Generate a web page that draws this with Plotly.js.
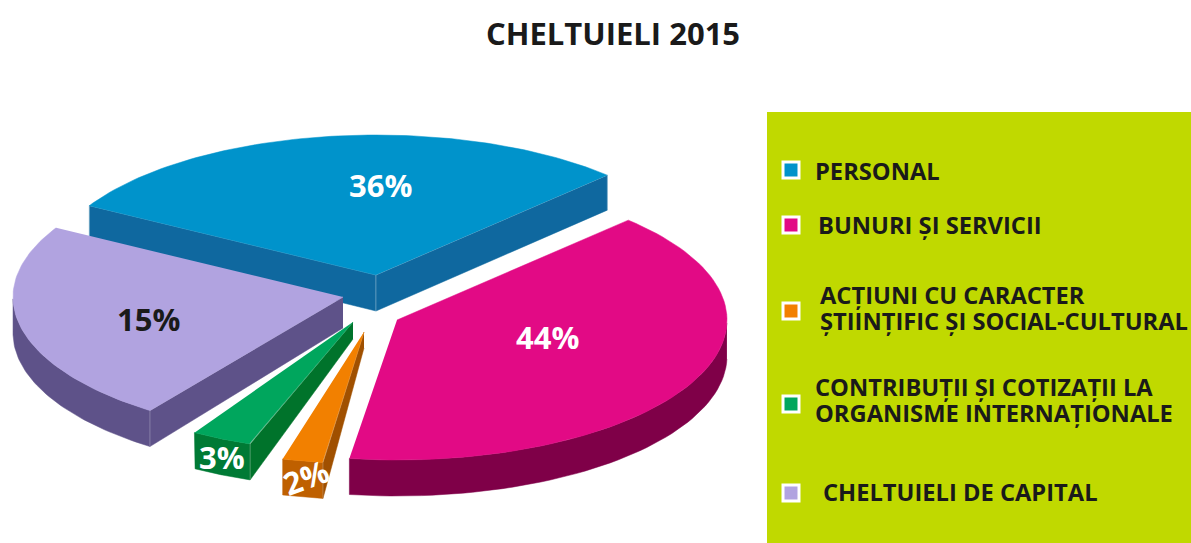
<!DOCTYPE html>
<html>
<head>
<meta charset="utf-8">
<script src="https://cdn.plot.ly/plotly-3.0.1.min.js"></script>
<style>html,body{margin:0;padding:0;background:#fff}#chart{width:1191px;height:543px}</style>
</head>
<body>
<div id="chart"></div>
<script>
// ---- data ----
var chartTitle = "CHELTUIELI 2015";
var categories = ["PERSONAL", "BUNURI ȘI SERVICII", "ACȚIUNI CU CARACTER ȘTIINȚIFIC ȘI SOCIAL-CULTURAL",
                  "CONTRIBUȚII ȘI COTIZAȚII LA ORGANISME INTERNAȚIONALE", "CHELTUIELI DE CAPITAL"];
var percentLabels = [36, 44, 2, 3, 15];
// swept angle of each slice as actually drawn in the (perspective) picture, degrees
var drawnSweep = [104.8, 143.8, 7.6, 11.6, 83.8];

// ---- layout and style, separate from the data ----
var startDeg  = [-60.3, 44.5, 187.6, 199.7, 215.8];
var centreX   = [376, 397, 364, 353, 343];
var centreY   = [275, 320, 332, 322, 297];
var radiusK   = [1, 1, 0.94, 0.925, 1];
var rimDepth  = [35, 36, 36, 36, 36];
var apexDepth = [36, 36, 16, 17, 31];
var topColor  = ["#0093CB", "#E20A85", "#F28000", "#00A65D", "#B1A3E0"];
var wallColor = ["#0F689F", "#7F0048", "#A05000", "#00732B", "#5E5289"];
var rimColor  = ["#0F689F", "#7F0048", "#BF6000", "#007A35", "#5E5289"];
var drawOrder = [0, 4, 1, 3, 2];
var RX = 330, RY = 140;

var labelX = [380, 547, 306, 222, 148];
var labelY = [185, 337, 477, 457, 319];
var labelColor = ["#fff", "#fff", "#fff", "#fff", "#1a1a1a"];
var labelAngle = [0, 0, -20, 0, 0];

var legendMarkY = [170, 225, 311, 404, 493];
var legendLines = [["PERSONAL"], ["BUNURI ȘI SERVICII"], ["ACȚIUNI CU CARACTER", "ȘTIINȚIFIC ȘI SOCIAL-CULTURAL"],
                   ["CONTRIBUȚII ȘI COTIZAȚII LA", "ORGANISME INTERNAȚIONALE"], ["CHELTUIELI DE CAPITAL"]];
var legendTextX = [813, 816, 818, 813, 821];
var legendTextY = [[171], [225], [295, 321], [387, 413], [492]];

var FONT = '"Open Sans", "Noto Sans", sans-serif';
var traces = [], annotations = [];

function pt(i, deg) {
  var t = deg * Math.PI / 180;
  return [centreX[i] + radiusK[i] * RX * Math.sin(t), centreY[i] - radiusK[i] * RY * Math.cos(t)];
}
function poly(xy, color) {
  traces.push({x: xy.map(function(p){return p[0];}), y: xy.map(function(p){return p[1];}),
    type: "scatter", mode: "lines", fill: "toself", fillcolor: color,
    line: {width: 0.5, color: color}, hoverinfo: "skip", showlegend: false});
}
function edge(a, b) {
  traces.push({x: [a[0], b[0]], y: [a[1], b[1]], type: "scatter", mode: "lines",
    line: {width: 0.7, color: "rgba(255,255,255,0.35)"}, hoverinfo: "skip", showlegend: false});
}

drawOrder.forEach(function(i) {
  var a0 = startDeg[i], sweep = drawnSweep[i], a1 = a0 + sweep;
  var apex = [centreX[i], centreY[i]];
  var arc = [], n = 80, k;
  for (k = 0; k <= n; k++) arc.push(pt(i, a0 + sweep * k / n));
  var mid = pt(i, a0 + sweep / 2);

  // outer rim: only the near half of the ellipse faces the viewer
  var rim = arc.filter(function(p, k) {
    var d = a0 + sweep * k / n; return d >= 90 && d <= 270;
  });
  if (rim.length > 1) {
    var low = rim.map(function(p){return [p[0], p[1] + rimDepth[i]];}).reverse();
    poly(rim.concat(low), rimColor[i]);
  }
  // radial cut faces: visible when the slice lies above the edge on screen
  [arc[0], arc[n]].forEach(function(P) {
    var ex = P[0] - apex[0], ey = P[1] - apex[1];
    var sideMid = ex * (mid[1] - apex[1]) - ey * (mid[0] - apex[0]);
    var sideDown = ex * 1;
    if (sideMid * sideDown < 0) {
      poly([apex, P, [P[0], P[1] + rimDepth[i]], [apex[0], apex[1] + apexDepth[i]]], wallColor[i]);
      edge(apex, P);
      edge(P, [P[0], P[1] + rimDepth[i]]);
      if (i === 0) edge(apex, [apex[0], apex[1] + apexDepth[i]]);
    }
  });
  poly([apex].concat(arc), topColor[i]);
});

// legend swatches
traces.push({
  x: legendMarkY.map(function(){return 791;}), y: legendMarkY, type: "scatter", mode: "markers",
  marker: {symbol: "square", size: 16, color: topColor, line: {color: "#fff", width: 3}},
  text: categories, hoverinfo: "text", showlegend: false
});

percentLabels.forEach(function(v, i) {
  annotations.push({x: labelX[i], y: labelY[i], xref: "x", yref: "y", text: v + "%", showarrow: false,
    textangle: labelAngle[i], font: {family: FONT, size: 31, color: labelColor[i], weight: 700}});
});
legendLines.forEach(function(lines, i) {
  lines.forEach(function(s, j) {
    annotations.push({x: legendTextX[i], y: legendTextY[i][j], xref: "x", yref: "y", text: s,
      showarrow: false, xanchor: "left", yanchor: "middle",
      font: {family: FONT, size: 23.7, color: "#1a1a1a", weight: 700}});
  });
});
annotations.push({x: 613, y: 33, xref: "x", yref: "y", text: chartTitle, showarrow: false,
  font: {family: FONT, size: 31, color: "#1a1a1a", weight: 700}});

Plotly.newPlot("chart", traces, {
  width: 1191, height: 543, margin: {l: 0, r: 0, t: 0, b: 0},
  paper_bgcolor: "#fff", plot_bgcolor: "#fff", showlegend: false,
  xaxis: {range: [0, 1191], visible: false, fixedrange: true},
  yaxis: {range: [543, 0], visible: false, fixedrange: true},
  shapes: [{type: "rect", xref: "x", yref: "y", x0: 767, x1: 1191, y0: 112, y1: 543,
            fillcolor: "#C0D900", line: {width: 0}, layer: "below"}],
  annotations: annotations
}, {displayModeBar: false, staticPlot: false});
</script>
</body>
</html>
